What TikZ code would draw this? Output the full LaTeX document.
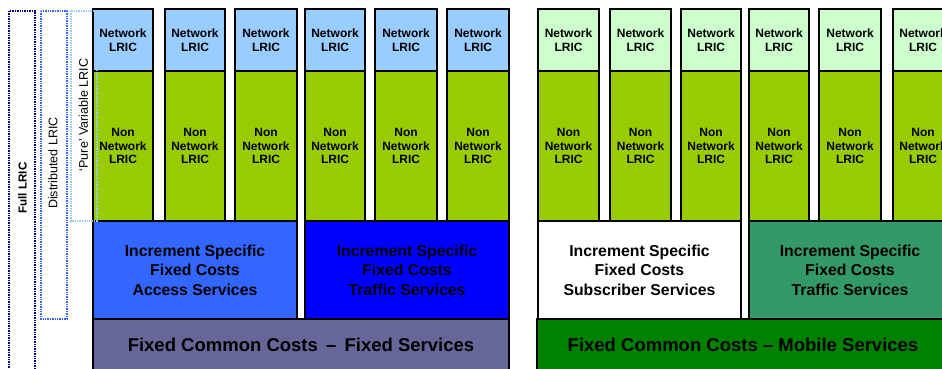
\documentclass[tikz,border=0pt]{standalone}
\usepackage{fontspec}
\setmainfont{Liberation Sans}
\definecolor{netF}{HTML}{99CCFF}
\definecolor{netM}{HTML}{CCFFCC}
\definecolor{nonnet}{HTML}{99CC00}
\definecolor{access}{HTML}{3366FF}
\definecolor{traffic}{HTML}{0000FF}
\definecolor{commonF}{HTML}{666699}
\definecolor{trafficM}{HTML}{339966}
\definecolor{commonM}{HTML}{008000}
\definecolor{fullc}{HTML}{000080}
\definecolor{distc}{HTML}{3366FF}
\definecolor{purec}{HTML}{99CCFF}
\tikzset{
  cell/.style={draw=black, line width=1.6pt, inner sep=0pt, align=center,
    font=\fontsize{12}{13.6}\selectfont\bfseries},
  incr/.style={cell, font=\fontsize{15.8}{19.5}\selectfont\bfseries},
  common/.style={cell, font=\fontsize{18.5}{22}\selectfont\bfseries},
  scopebox/.style={densely dotted, line width=1.4pt},
  scopelabel/.style={rotate=90, font=\fontsize{12.5}{14}\selectfont}
}
\begin{document}
\begin{tikzpicture}[x=1pt,y=-1pt]
\useasboundingbox[fill=white] (0,0) rectangle (942,369);
% fixed columns
\foreach \l/\r [count=\i] in {93/153,165/225,235/297,305/365,375/437,447/509}{
  \node[cell, fill=netF, minimum width={(\r-\l)*1pt}, minimum height=62pt]
    (fnet\i) at ({(\l+\r)/2},40) {Network\\LRIC};
  \node[cell, fill=nonnet, minimum width={(\r-\l)*1pt}, minimum height=150pt]
    (fnon\i) at ({(\l+\r)/2},146) {Non\\Network\\LRIC};
}
% mobile columns
\foreach \l/\r [count=\i] in {538/599,610/671,681/741,749/809,819/881,893/953}{
  \node[cell, fill=netM, minimum width={(\r-\l)*1pt}, minimum height=62pt]
    (mnet\i) at ({(\l+\r)/2},40) {Network\\LRIC};
  \node[cell, fill=nonnet, minimum width={(\r-\l)*1pt}, minimum height=150pt]
    (mnon\i) at ({(\l+\r)/2},146) {Non\\Network\\LRIC};
}
% increment specific
\node[incr, fill=access, minimum width=204pt, minimum height=98pt] (access) at (195,270)
  {Increment Specific\\Fixed Costs\\Access Services};
\node[incr, fill=traffic, minimum width=204pt, minimum height=98pt] (trafficF) at (407,270)
  {Increment Specific\\Fixed Costs\\Traffic Services};
\node[incr, fill=white, minimum width=203pt, minimum height=98pt] (subscr) at (639.5,270)
  {Increment Specific\\Fixed Costs\\Subscriber Services};
\node[incr, fill=trafficM, minimum width=202pt, minimum height=98pt] (trafficM) at (850,270)
  {Increment Specific\\Fixed Costs\\Traffic Services};
% common costs
\node[common, fill=commonF, minimum width=416pt, minimum height=52pt] (comF) at (301,345)
  {Fixed Common Costs \,--\, Fixed Services};
\node[common, fill=commonM, minimum width=412pt, minimum height=52pt] (comM) at (743,345)
  {Fixed Common Costs -- Mobile Services};
% scope boxes
\draw[scopebox, draw=fullc] (9,11) rectangle (35,375);
\node[scopelabel, font=\fontsize{11.6}{13}\selectfont\bfseries] (full) at (22.5,188) {Full LRIC};
\draw[scopebox, draw=distc] (41,11) rectangle (67,319);
\node[scopelabel] (dist) at (53,163) {Distributed LRIC};
\draw[scopebox, draw=purec] (71,11) rectangle (97,221);
\node[scopelabel] (pure) at (83.5,115) {`Pure' Variable LRIC};
\end{tikzpicture}
\end{document}
